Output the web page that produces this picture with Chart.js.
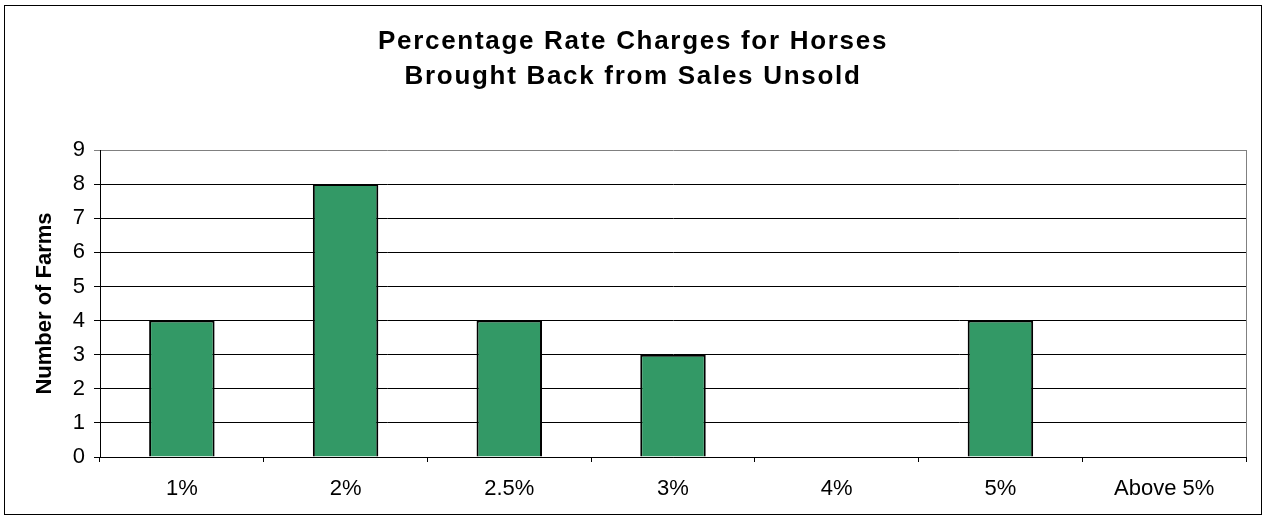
<!DOCTYPE html>
<html>
<head>
<meta charset="utf-8">
<script src="https://cdn.jsdelivr.net/npm/chart.js@4.4.0/dist/chart.umd.min.js"></script>
<style>
  body { margin: 0; background: #fff; }
  #wrap { width: 1265px; height: 527px; }
</style>
</head>
<body>
<div id="wrap"><canvas id="bar-chart" width="1265" height="527"></canvas></div>
<script>
// values
var categorias = ['1%', '2%', '2.5%', '3%', '4%', '5%', 'Above 5%'];
var numeroFazendas = [4, 8, 4, 3, 0, 4, 0];
var yMin = 0, yMax = 9, yPasso = 1;

var fonte = "'Liberation Sans', Arial, sans-serif";

// moldura externa + borda direita cinza da area do grafico
var molduras = {
    id: 'molduras',
    beforeDraw: function (chart) {
        var ctx = chart.ctx;
        ctx.save();
        ctx.fillStyle = '#fff';
        ctx.fillRect(0, 0, chart.width, chart.height);
        ctx.strokeStyle = '#000';
        ctx.lineWidth = 1;
        ctx.strokeRect(4.5, 5.5, 1257, 509);
        ctx.restore();
    },
    afterDatasetsDraw: function (chart) {
        var ctx = chart.ctx, a = chart.chartArea;
        ctx.save();
        ctx.strokeStyle = '#808080';
        ctx.lineWidth = 1;
        ctx.beginPath();
        ctx.moveTo(Math.round(a.right) + 0.5, a.top);
        ctx.lineTo(Math.round(a.right) + 0.5, a.bottom);
        ctx.stroke();
        ctx.restore();
    }
};

function montarGrafico() {
    var grafico = new Chart(document.getElementById('bar-chart'), {
        type: 'bar',
        data: {
            labels: categorias,
            datasets: [{
                label: 'Number of Farms',
                data: numeroFazendas,
                backgroundColor: '#339966',
                borderColor: '#000',
                borderWidth: 2,
                barPercentage: 0.4,
                categoryPercentage: 1
            }]
        },
        options: {
            responsive: false,
            animation: false,
            layout: { padding: { left: 20, right: 19, top: 0, bottom: 0 } },
            plugins: {
                legend: { display: false },
                tooltip: { enabled: false },
                title: {
                    display: true,
                    text: ['Percentage Rate Charges for Horses', 'Brought Back from Sales Unsold'],
                    color: '#000',
                    font: { family: fonte, size: 26, weight: 'bold', lineHeight: '35px' },
                    padding: { top: 24, bottom: 56 }
                }
            },
            scales: {
                x: {
                    afterFit: function (scale) { scale.height = 70; },
                    grid: { drawOnChartArea: false, drawTicks: true, tickLength: 5, color: '#000' },
                    border: { color: '#000', width: 1 },
                    ticks: { color: '#000', padding: 14, font: { family: fonte, size: 22 } }
                },
                y: {
                    min: yMin,
                    max: yMax,
                    afterFit: function (scale) { scale.width = 80; },
                    grid: {
                        tickLength: 6,
                        color: function (c) { return c.tick && c.tick.value === yMax ? '#808080' : '#000'; }
                    },
                    border: { color: '#000', width: 1 },
                    ticks: { stepSize: yPasso, color: '#000', padding: 9, font: { family: fonte, size: 22 } },
                    title: {
                        display: true,
                        text: 'Number of Farms',
                        color: '#000',
                        padding: { top: 12, bottom: 0 },
                        font: { family: fonte, size: 22, weight: 'bold' }
                    }
                }
            }
        },
        plugins: [molduras]
    });

    // o titulo do original tem letras mais espacadas
    var bloco = grafico.titleBlock;
    var desenhaOriginal = bloco.draw.bind(bloco);
    bloco.draw = function (area) {
        grafico.ctx.letterSpacing = '1.7px';
        desenhaOriginal(area);
        grafico.ctx.letterSpacing = '0px';
    };
    grafico.draw();
}

montarGrafico();
</script>
</body>
</html>
